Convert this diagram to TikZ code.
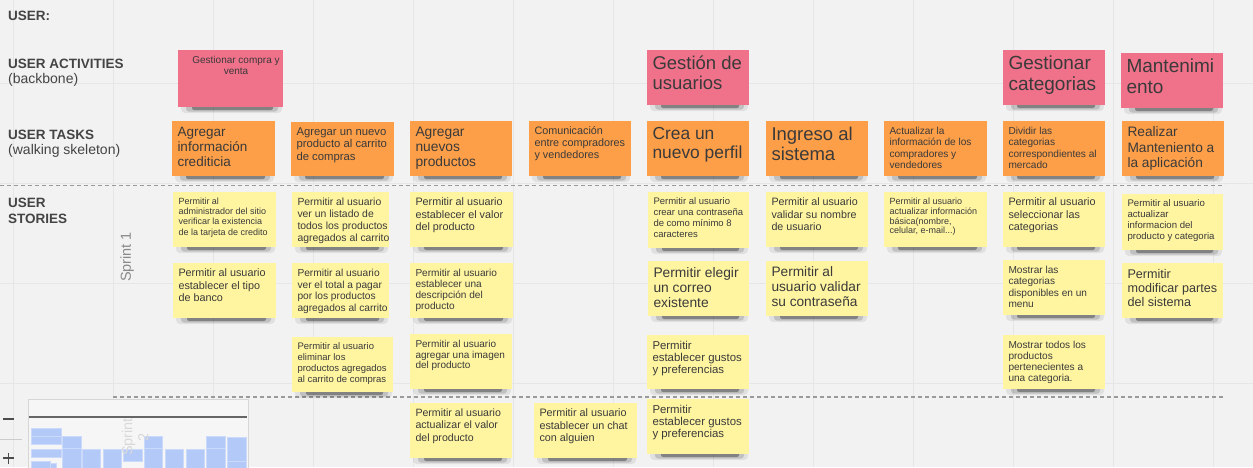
\documentclass[tikz,border=0pt]{standalone}
\usepackage{fontspec}
\setmainfont{Liberation Sans}
\definecolor{bg}{HTML}{F2F2F2}
\definecolor{gridc}{HTML}{E6E6E6}
\definecolor{pinkc}{HTML}{F0718A}
\definecolor{orangec}{HTML}{FD9F48}
\definecolor{yellowc}{HTML}{FFF5A1}
\definecolor{txt}{HTML}{3A3A3A}
\definecolor{lbl}{HTML}{444444}
\definecolor{dashc}{HTML}{9A9A9A}
\definecolor{sprintc}{HTML}{8A8A8A}
\definecolor{mapblue}{HTML}{B3C9F7}
\definecolor{mapline}{HTML}{CBD9FA}
\definecolor{mapbg}{HTML}{F6F6F6}
\definecolor{mapbd}{HTML}{D6D6D6}
\definecolor{faint}{HTML}{D9D9D9}
\newcommand\fs[2]{\fontsize{#1}{#2}\selectfont}
\tikzset{
  stkbox/.style={anchor=north west, inner xsep=5.5pt, inner ysep=6pt, outer sep=0pt, text=txt},
  lblbold/.style={anchor=base west, inner sep=0pt, text=lbl, font=\bfseries\fs{13.5}{15}},
  lblreg/.style={anchor=base west, inner sep=0pt, text=lbl, font=\fs{14}{16}},
  dashline/.style={dashc, line width=1.3pt, dash pattern=on 4pt off 3pt},
  mapbar/.style={fill=mapblue, draw=mapline, line width=0.6pt}
}
\newcommand\stk[8]{%
  \fill[black,opacity=.07,rounded corners=4pt] ({#2+3},{#3+#5-4}) rectangle ({#2+#4-1},{#3+#5+6});
  \fill[black,opacity=.14,rounded corners=3pt] ({#2+8},{#3+#5-3}) rectangle ({#2+#4-5},{#3+#5+4.5});
  \fill[black,opacity=.32,rounded corners=2pt] ({#2+14},{#3+#5-2}) rectangle ({#2+#4-10},{#3+#5+3});
  \node[stkbox,fill=#6,minimum width=#4pt,minimum height=#5pt] (#1) at (#2,#3)
    {\makebox[\dimexpr#4pt-11pt\relax][l]{\parbox[c][\dimexpr#5pt-12pt\relax][t]{#4pt}{\raggedright#7#8}}};
}
\begin{document}
\begin{tikzpicture}[x=1pt,y=-1pt]
\useasboundingbox (0,0) rectangle (1253,467);
\fill[bg] (0,0) rectangle (1253,467);
% grid
\foreach \gx in {13,113,...,1213} \draw[gridc,line width=1pt] (\gx,0) -- (\gx,467);
\foreach \gy in {83,183,283,383} \draw[gridc,line width=1pt] (0,\gy) -- (1253,\gy);
% dashed separators
\draw[dashline] (0,185.5) -- (1225,185.5);
\draw[dashline] (113,397) -- (1225,397);
% labels
\node[lblbold] (user) at (8,20) {USER:};
\node[lblbold] (ua) at (8,68) {USER ACTIVITIES};
\node[lblreg] (uab) at (8,83) {(backbone)};
\node[lblbold] (ut) at (8,139) {USER TASKS};
\node[lblreg] (utw) at (8,154) {(walking skeleton)};
\node[lblbold] (us) at (8,207) {USER};
\node[lblbold] (uss) at (8,223) {STORIES};
\node[rotate=90, text=sprintc, font=\fs{14.5}{16}, inner sep=0pt] (sp1) at (127,257) {Sprint 1};
% activities
\stk{a1}{178}{50}{105}{57}{pinkc}{\centering\fs{10}{11}}{Gestionar compra y\\venta}
\stk{a2}{647}{50}{102}{55}{pinkc}{\fs{18.5}{20}}{Gestión de\\usuarios}
\stk{a3}{1003}{50}{102}{55}{pinkc}{\fs{19}{20.5}}{Gestionar\\categorias}
\stk{a4}{1121}{53}{102}{55}{pinkc}{\fs{19}{20.5}}{Mantenimi\\ento}
% tasks
\stk{t1}{172}{121}{103}{55}{orangec}{\fs{13.5}{15}}{Agregar\\información\\crediticia}
\stk{t2}{291}{122}{103}{54}{orangec}{\fs{11.3}{12.2}}{Agregar un nuevo\\producto al carrito\\de compras}
\stk{t3}{410}{121}{102}{55}{orangec}{\fs{13.8}{15}}{Agregar\\nuevos\\productos}
\stk{t4}{529}{121}{102}{55}{orangec}{\fs{10.8}{12}}{Comunicación\\entre compradores\\y vendedores}
\stk{t5}{647}{121}{102}{55}{orangec}{\fs{17.4}{19.4}}{Crea un\\nuevo perfil}
\stk{t6}{766}{121}{102}{55}{orangec}{\fs{18.5}{20}}{Ingreso al\\sistema}
\stk{t7}{884}{121}{103}{55}{orangec}{\fs{10.1}{11.4}}{Actualizar la\\información de los\\compradores y\\vendedores}
\stk{t8}{1003}{121}{102}{55}{orangec}{\fs{10.1}{11.4}}{Dividir las\\categorias\\correspondientes al\\mercado}
\stk{t9}{1122}{121}{102}{55}{orangec}{\fs{13.7}{15.3}}{Realizar\\Manteniento a\\la aplicación}
% stories row 1
\stk{s11}{173}{192}{103}{55}{yellowc}{\fs{9}{10.2}}{Permitir al\\administrador del sitio\\verificar la existencia\\de la tarjeta de credito}
\stk{s12}{292}{192}{97}{55}{yellowc}{\fs{10.4}{11.9}}{Permitir al usuario\\ver un listado de\\todos los productos\\agregados al carrito}
\stk{s13}{410}{192}{103}{55}{yellowc}{\fs{10.8}{12.2}}{Permitir al usuario\\establecer el valor\\del producto}
\stk{s15}{648}{192}{101}{56}{yellowc}{\fs{9.5}{10.9}}{Permitir al usuario\\crear una contraseña\\de como mínimo 8\\caracteres}
\stk{s16}{766}{192}{102}{55}{yellowc}{\fs{10.7}{12.5}}{Permitir al usuario\\validar su nombre\\de usuario}
\stk{s17}{884}{192}{103}{55}{yellowc}{\fs{9}{9.8}}{Permitir al usuario\\actualizar información\\básica(nombre,\\celular, e-mail...)}
\stk{s18}{1003}{192}{102}{55}{yellowc}{\fs{10.8}{12.5}}{Permitir al usuario\\seleccionar las\\categorias}
\stk{s19}{1122}{194}{101}{56}{yellowc}{\fs{9.6}{11}}{Permitir al usuario\\actualizar\\informacion del\\producto y categoria}
% stories row 2
\stk{s21}{173}{263}{103}{55}{yellowc}{\fs{10.8}{12.3}}{Permitir al usuario\\establecer el tipo\\de banco}
\stk{s22}{292}{263}{97}{55}{yellowc}{\fs{10.2}{11.7}}{Permitir al usuario\\ver el total a pagar\\por los productos\\agregados al carrito}
\stk{s23}{410}{263}{103}{55}{yellowc}{\fs{10.1}{11}}{Permitir al usuario\\establecer una\\descripción del\\producto}
\stk{s25}{648}{261}{101}{55}{yellowc}{\fs{13.8}{15}}{Permitir elegir\\un correo\\existente}
\stk{s26}{766}{261}{102}{55}{yellowc}{\fs{13.7}{15}}{Permitir al\\usuario validar\\su contraseña}
\stk{s28}{1003}{260}{102}{55}{yellowc}{\fs{10.1}{11.5}}{Mostrar las\\categorias\\disponibles en un\\menu}
\stk{s29}{1122}{263}{101}{55}{yellowc}{\fs{12.6}{14.2}}{Permitir\\modificar partes\\del sistema}
% stories row 3
\stk{s32}{292}{337}{101}{55}{yellowc}{\fs{9.5}{10.8}}{Permitir al usuario\\eliminar los\\productos agregados\\al carrito de compras}
\stk{s33}{410}{334}{102}{55}{yellowc}{\fs{10}{10.8}}{Permitir al usuario\\agregar una imagen\\del producto}
\stk{s35}{647}{335}{102}{54}{yellowc}{\fs{11.4}{12.2}}{Permitir\\establecer gustos\\y preferencias}
\stk{s38}{1003}{335}{102}{54}{yellowc}{\fs{10.1}{11}}{Mostrar todos los\\productos\\pertenecientes a\\una categoria.}
% stories row 4 (sprint 2)
\stk{s43}{410}{403}{102}{55}{yellowc}{\fs{10.6}{12.2}}{Permitir al usuario\\actualizar el valor\\del producto}
\stk{s44}{534}{403}{103}{55}{yellowc}{\fs{10.8}{12.2}}{Permitir al usuario\\establecer un chat\\con alguien}
\stk{s45}{647}{399}{102}{55}{yellowc}{\fs{11.4}{12}}{Permitir\\establecer gustos\\y preferencias}
% minimap
\fill[mapbg] (28,399) rectangle (248,472);
\draw[mapbd,line width=0.8pt] (28,399) rectangle (248,472);
\draw[black!60,line width=1.4pt] (29,417) -- (247,417);
\foreach \ax/\ay/\bx/\by in {31/428/61/436, 31/436/61/444, 62/436/81/448, 62/448/81/472,
  31/449/61/457, 31/461/50/472, 50/463/56/472, 82/449/100/472, 103/449/121/472,
  123/449/142/461, 144/436/162/448, 144/448/162/472, 165/449/183/472, 186/449/204/472,
  206/436/225/448, 206/448/225/472, 227/437/246/461, 227/461/246/472}
  \draw[mapbar] (\ax,\ay) rectangle (\bx,\by);
\node[rotate=90, text=faint, align=center, font=\fs{14.5}{16}, inner sep=0pt] (sp2) at (135,437) {Sprint\\2};
% zoom widget
\draw[black!70,line width=1.5pt] (3,419) -- (14,419);
\draw[black!20,line width=0.8pt] (0,439) -- (22,439);
\draw[black!70,line width=1.5pt] (3,458) -- (14,458) (8.5,452.5) -- (8.5,463.5);
\end{tikzpicture}
\end{document}
